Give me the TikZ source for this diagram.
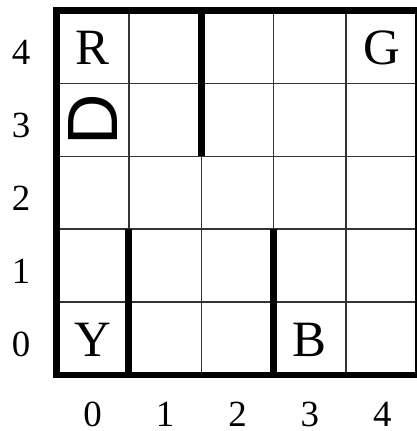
\documentclass[tikz,border=0pt]{standalone}
\usepackage{fontspec}
\setmainfont{Liberation Serif}
\newfontfamily\taxifont{Liberation Sans}

\begin{document}
\begin{tikzpicture}[x=1cm, y=1.0069cm,
    gridline/.style={black!80, line width=0.6pt},
    wall/.style={black, line width=2.7pt},
    border/.style={black, line width=2.6pt},
    site/.style={anchor=base, font=\fontsize{20}{24}\selectfont},
    axislabel/.style={anchor=base, font=\fontsize{14.5}{17}\selectfont}]

    \useasboundingbox (-0.780,-0.768) rectangle (4.979,5.144);

    % --- Grid cells ---
    \foreach \i in {1,...,4} {
        \draw[gridline] (\i,0) -- (\i,5);
        \draw[gridline] (0,\i) -- (5,\i);
    }

    % --- Walls ---
    \draw[wall] (1,0) -- (1,2);
    \draw[wall] (3,0) -- (3,2);
    \draw[wall] (2,3) -- (2,5);

    % --- Outer border ---
    \draw[border] (0,0) rectangle (5,5);

    % --- Landmarks ---
    \node[site] (R) at (0.5,4.253) {R};
    \node[site] (G) at (4.5,4.253) {G};
    \node[site] (Y) at (0.5,0.253) {Y};
    \node[site] (B) at (3.5,0.253) {B};

    % --- Taxi ---
    \node[rotate=90, inner sep=0pt, font=\taxifont\fontsize{28}{30}\selectfont] (taxi) at (0.5,3.5) {D};

    % --- Axis labels ---
    \foreach \n in {0,...,4} {
        \node[axislabel] (row\n) at (-0.49,\n+0.253) {\n};
        \node[axislabel] (col\n) at (\n+0.5,-0.70) {\n};
    }

\end{tikzpicture}
\end{document}
